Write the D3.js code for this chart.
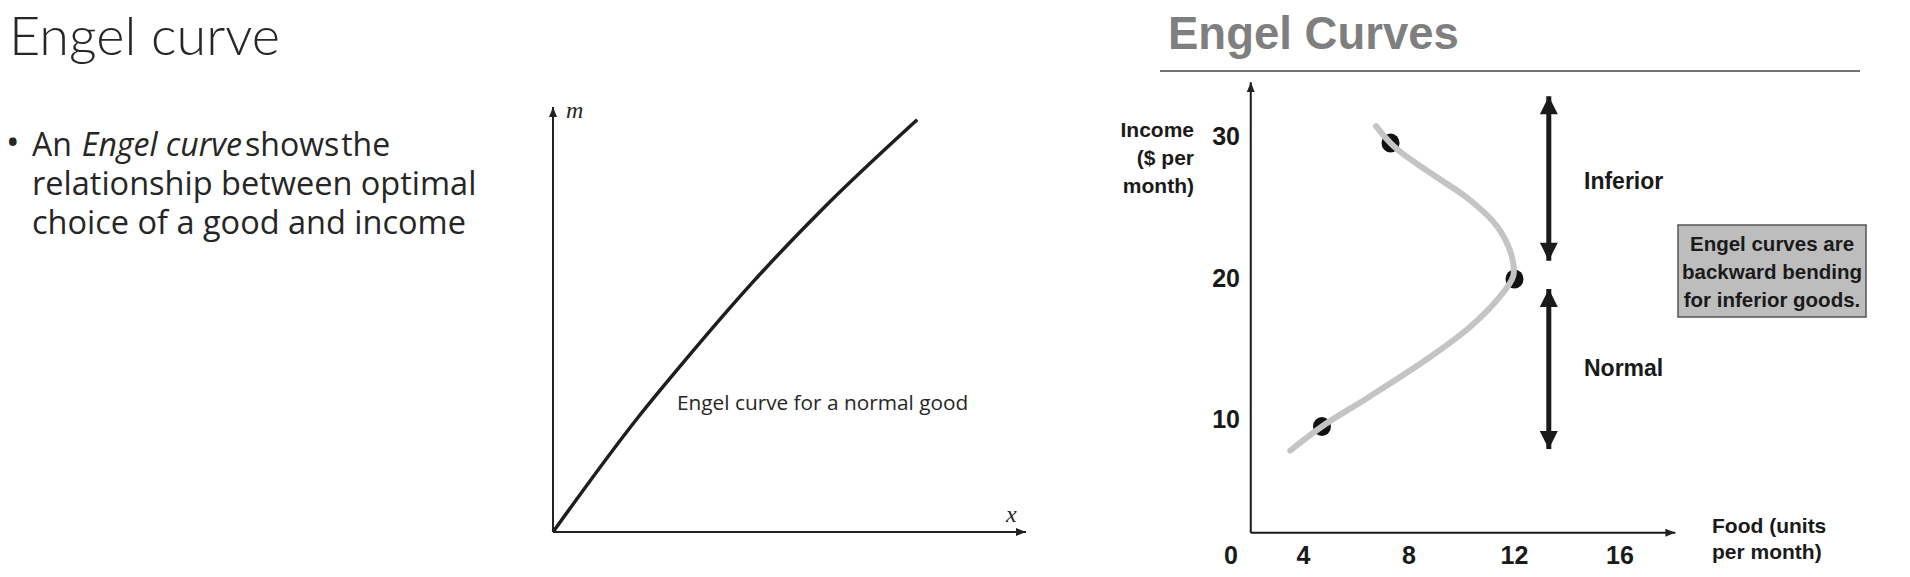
<!DOCTYPE html>
<html lang="en">
<head>
<meta charset="UTF-8">
<title>Engel curve</title>
<style>
  body { margin: 0; background: #fff; }
  svg { display: block; }
  .slide { font-family: 'Open Sans', Lato, sans-serif; fill: #262626; }
  .fig { font-family: 'Liberation Sans', Arial, sans-serif; font-weight: bold; fill: #1a1a1a; }
  .math { font-family: 'Liberation Serif', 'DejaVu Serif', serif; font-style: italic; fill: #262626; }
</style>
</head>
<body>
<svg width="1910" height="577"></svg>
<script src="https://d3js.org/d3.v7.min.js"></script>
<script>
// left figure: Engel curve for a normal good (arbitrary units)
const normalX = [0, 1.8, 2.8, 4.2, 5.7, 7.7];
const normalM = [0, 2.7, 4.05, 5.85, 7.6, 9.7];

// right figure: food (units per month) against income ($ per month)
const foodTicks = [4, 8, 12, 16];
const incomeTicks = [10, 20, 30];
const dotFood = [4.7, 12.0, 7.3];
const dotIncome = [9.5, 19.9, 29.5];
const curveFood = [3.5, 4.7, 6.5, 8.8, 10.3, 11.35, 11.95, 11.9, 11.35, 10.3, 8.8, 7.8, 7.3, 6.75];
const curveIncome = [7.8, 9.5, 11.6, 14.4, 16.5, 18.45, 20.1, 21.5, 23.6, 25.5, 27.4, 28.7, 29.5, 30.7];
const bandLabels = ["Inferior", "Normal"];
const noteLines = ["Engel curves are", "backward bending", "for inferior goods."];

const svg = d3.select("svg");
svg.append("rect").attr("width", 1910).attr("height", 577).attr("fill", "#fff");

const defs = svg.append("defs");
defs.append("marker").attr("id", "tip")
  .attr("viewBox", "0 0 10 10").attr("refX", 10).attr("refY", 5)
  .attr("markerWidth", 10).attr("markerHeight", 10).attr("markerUnits", "userSpaceOnUse")
  .attr("orient", "auto-start-reverse")
  .append("path").attr("d", "M0,1 L10,5 L0,9 Z").attr("fill", "#222");
defs.append("marker").attr("id", "bigtip")
  .attr("viewBox", "0 0 10 10").attr("refX", 10).attr("refY", 5)
  .attr("markerWidth", 22).attr("markerHeight", 18).attr("markerUnits", "userSpaceOnUse")
  .attr("orient", "auto-start-reverse")
  .append("path").attr("d", "M0,0 L10,5 L0,10 Z").attr("fill", "#1a1a1a");

// ---- left slide text
svg.append("text").attr("x", 9).attr("y", 55)
  .style("font-family", "Lato, 'Open Sans', sans-serif").attr("fill", "#262626")
  .style("font-size", "54px").style("font-weight", 300)
  .text("Engel curve");

svg.append("text").attr("class", "slide").attr("x", 6).attr("y", 155)
  .style("font-size", "36px").text("•");

// first bullet line is built from separate runs placed one after another
const runs = [
  { t: "An", italic: false, gap: 10 },
  { t: "Engel curve", italic: true, gap: 3 },
  { t: "shows", italic: false, gap: 2 },
  { t: "the", italic: false, gap: 0 }
];
let runX = 32;
runs.forEach(r => {
  const node = svg.append("text").attr("class", "slide").attr("x", runX).attr("y", 156)
    .style("font-size", "32px").style("font-style", r.italic ? "italic" : "normal")
    .text(r.t);
  runX += node.node().getComputedTextLength() + r.gap;
});
["relationship between optimal", "choice of a good and income"].forEach((t, i) =>
  svg.append("text").attr("class", "slide").attr("x", 32).attr("y", 195 + i * 39)
    .style("font-size", "32.5px").text(t));

// ---- middle figure
const xL = d3.scaleLinear().domain([0, 10]).range([553, 1026]);
const yL = d3.scaleLinear().domain([0, 10]).range([532, 107]);

svg.append("line")
  .attr("x1", xL(0)).attr("y1", yL(0)).attr("x2", xL(10)).attr("y2", yL(0))
  .attr("stroke", "#222").attr("stroke-width", 2).attr("marker-end", "url(#tip)");
svg.append("line")
  .attr("x1", xL(0)).attr("y1", yL(0)).attr("x2", xL(0)).attr("y2", yL(10))
  .attr("stroke", "#222").attr("stroke-width", 2).attr("marker-end", "url(#tip)");

svg.append("path")
  .datum(d3.zip(normalX, normalM))
  .attr("fill", "none").attr("stroke", "#1e1e1e").attr("stroke-width", 3.5)
  .attr("d", d3.line().x(d => xL(d[0])).y(d => yL(d[1])).curve(d3.curveMonotoneX));

svg.append("text").attr("class", "math").attr("x", 566).attr("y", 118)
  .style("font-size", "24px").text("m");
svg.append("text").attr("class", "math").attr("x", 1006).attr("y", 522)
  .style("font-size", "24px").text("x");
svg.append("text").attr("class", "slide").attr("x", 677).attr("y", 410)
  .style("font-size", "20.8px").text("Engel curve for a normal good");

// ---- right figure
svg.append("text").attr("x", 1168).attr("y", 49)
  .style("font-family", "'Liberation Sans', Arial, sans-serif")
  .style("font-weight", "bold").style("font-size", "45.5px").attr("fill", "#7f7f7f")
  .text("Engel Curves");
svg.append("line").attr("x1", 1160).attr("x2", 1860).attr("y1", 71).attr("y2", 71)
  .attr("stroke", "#444").attr("stroke-width", 1.5);

const xR = d3.scaleLinear().domain([0, 16]).range([1198, 1620]);
const yR = d3.scaleLinear().domain([0, 30]).range([561, 136]);
const axisFrom = [2, 2];
const axisTo = [18.1, 33.8];

svg.append("line")
  .attr("x1", xR(axisFrom[0])).attr("y1", yR(axisFrom[1]))
  .attr("x2", xR(axisTo[0])).attr("y2", yR(axisFrom[1]))
  .attr("stroke", "#1a1a1a").attr("stroke-width", 2).attr("marker-end", "url(#tip)");
svg.append("line")
  .attr("x1", xR(axisFrom[0])).attr("y1", yR(axisFrom[1]))
  .attr("x2", xR(axisFrom[0])).attr("y2", yR(axisTo[1]))
  .attr("stroke", "#1a1a1a").attr("stroke-width", 2).attr("marker-end", "url(#tip)");

svg.selectAll(".ytick").data(incomeTicks).enter().append("text")
  .attr("class", "fig").attr("x", 1240).attr("y", d => yR(d))
  .attr("dy", "0.36em").attr("text-anchor", "end")
  .style("font-size", "25px").text(d => d);
svg.selectAll(".xtick").data(foodTicks).enter().append("text")
  .attr("class", "fig").attr("x", d => xR(d)).attr("y", 564)
  .attr("text-anchor", "middle").style("font-size", "25px").text(d => d);
svg.append("text").attr("class", "fig").attr("x", 1231).attr("y", 564)
  .attr("text-anchor", "middle").style("font-size", "25px").text("0");

["Income", "($ per", "month)"].forEach((t, i) =>
  svg.append("text").attr("class", "fig").attr("text-anchor", "end")
    .attr("x", 1194).attr("y", 137 + i * 28).style("font-size", "21px").text(t));
["Food (units", "per month)"].forEach((t, i) =>
  svg.append("text").attr("class", "fig")
    .attr("x", 1712).attr("y", 533 + i * 26).style("font-size", "21px").text(t));

// dots first, the grey curve runs over them
svg.selectAll(".dot").data(d3.zip(dotFood, dotIncome)).enter().append("ellipse")
  .attr("cx", d => xR(d[0])).attr("cy", d => yR(d[1]))
  .attr("rx", 9).attr("ry", 9.5).attr("fill", "#111");

svg.append("path")
  .datum(d3.zip(curveFood, curveIncome))
  .attr("fill", "none").attr("stroke", "#c4c4c4").attr("stroke-width", 6)
  .attr("stroke-linecap", "round")
  .attr("d", d3.line().x(d => xR(d[0])).y(d => yR(d[1])).curve(d3.curveCatmullRom));

// inferior / normal ranges
const bandX = 13.3;
const bands = [[21.2, 32.8], [7.9, 19.2]];
bands.forEach((b, i) => {
  svg.append("line")
    .attr("x1", xR(bandX)).attr("x2", xR(bandX))
    .attr("y1", yR(b[0])).attr("y2", yR(b[1]))
    .attr("stroke", "#1a1a1a").attr("stroke-width", 5)
    .attr("marker-start", "url(#bigtip)").attr("marker-end", "url(#bigtip)");
  svg.append("text").attr("class", "fig")
    .attr("x", 1584).attr("y", yR((b[0] + b[1]) / 2) + (i ? -1 : 2)).attr("dy", "0.36em")
    .style("font-size", "23px").text(bandLabels[i]);
});

// note box
svg.append("rect").attr("x", 1678).attr("y", 225).attr("width", 188).attr("height", 92)
  .attr("fill", "#bdbdbd").attr("stroke", "#555").attr("stroke-width", 1.5);
svg.selectAll(".note").data(noteLines).enter().append("text")
  .attr("class", "fig").attr("x", 1772).attr("y", (d, i) => 251 + i * 28)
  .attr("text-anchor", "middle").style("font-size", "20.5px").text(d => d);
</script>
</body>
</html>
